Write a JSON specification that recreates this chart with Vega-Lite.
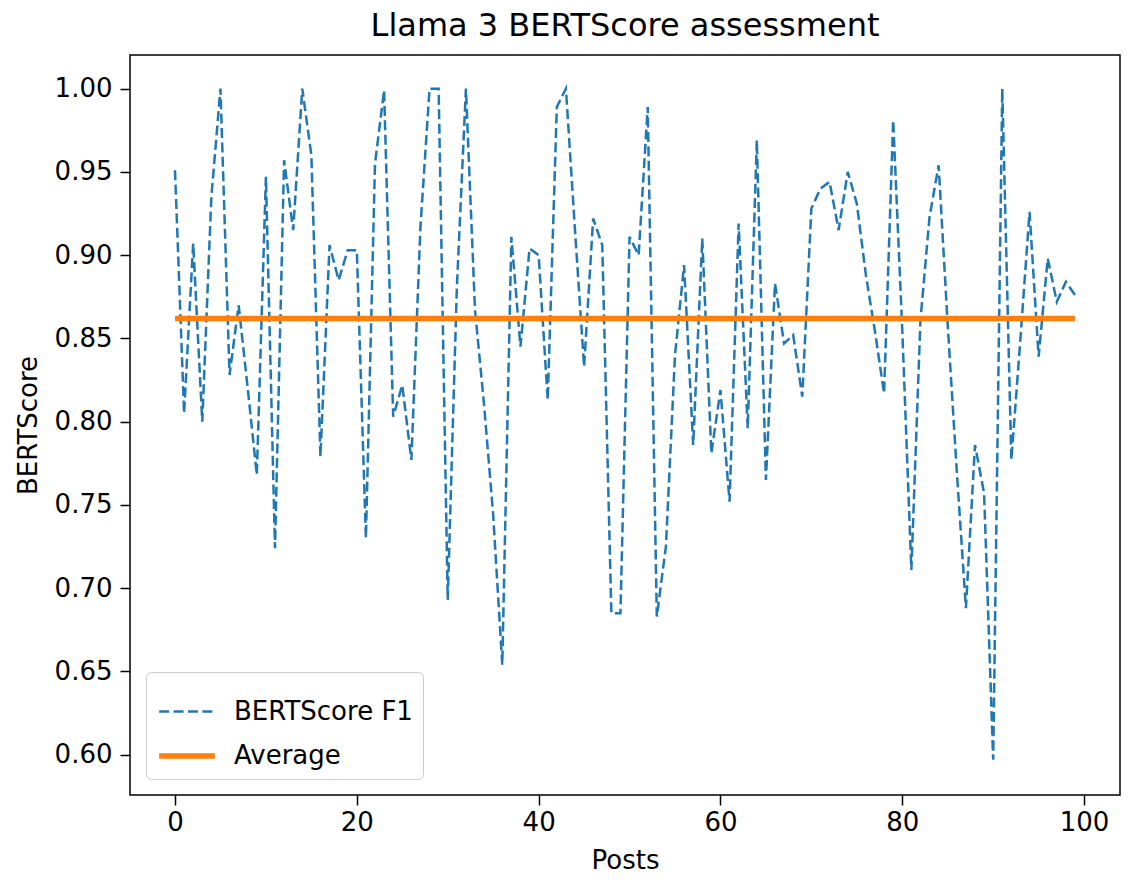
{
  "$schema": "https://vega.github.io/schema/vega-lite/v6.json",
  "width": 990,
  "height": 740,
  "autosize": {"type": "none"},
  "padding": {"left": 130, "top": 55, "right": 9, "bottom": 89},
  "background": "white",
  "title": {"text": "Llama 3 BERTScore assessment", "fontSize": 32, "font": "DejaVu Sans", "fontWeight": "normal", "color": "black", "offset": 12, "anchor": "middle"},
  "config": {
    "font": "DejaVu Sans",
    "view": {"stroke": "black", "strokeWidth": 1.5},
    "axis": {"domain": false, "grid": false, "ticks": true, "tickColor": "black", "tickWidth": 1.5, "tickSize": 10, "labelColor": "black", "labelFontSize": 26, "labelFont": "DejaVu Sans", "titleFont": "DejaVu Sans", "titleFontSize": 26, "titleFontWeight": "normal", "titleColor": "black"},
    "legend": {"orient": "bottom-left", "offset": 16, "padding": 10, "fillColor": "white", "strokeColor": "#cccccc", "cornerRadius": 5, "labelFontSize": 26, "labelFont": "DejaVu Sans", "labelColor": "black", "labelLimit": 0, "symbolType": "stroke", "symbolSize": 3100, "labelOffset": 16, "rowPadding": 0}
  },
  "datasets": {
    "scores": [
      {"post": 0, "score": 0.951, "series": "BERTScore F1"},
      {"post": 1, "score": 0.805, "series": "BERTScore F1"},
      {"post": 2, "score": 0.907, "series": "BERTScore F1"},
      {"post": 3, "score": 0.800, "series": "BERTScore F1"},
      {"post": 4, "score": 0.935, "series": "BERTScore F1"},
      {"post": 5, "score": 1.000, "series": "BERTScore F1"},
      {"post": 6, "score": 0.828, "series": "BERTScore F1"},
      {"post": 7, "score": 0.870, "series": "BERTScore F1"},
      {"post": 8, "score": 0.820, "series": "BERTScore F1"},
      {"post": 9, "score": 0.768, "series": "BERTScore F1"},
      {"post": 10, "score": 0.947, "series": "BERTScore F1"},
      {"post": 11, "score": 0.724, "series": "BERTScore F1"},
      {"post": 12, "score": 0.957, "series": "BERTScore F1"},
      {"post": 13, "score": 0.915, "series": "BERTScore F1"},
      {"post": 14, "score": 1.000, "series": "BERTScore F1"},
      {"post": 15, "score": 0.960, "series": "BERTScore F1"},
      {"post": 16, "score": 0.779, "series": "BERTScore F1"},
      {"post": 17, "score": 0.906, "series": "BERTScore F1"},
      {"post": 18, "score": 0.885, "series": "BERTScore F1"},
      {"post": 19, "score": 0.903, "series": "BERTScore F1"},
      {"post": 20, "score": 0.903, "series": "BERTScore F1"},
      {"post": 21, "score": 0.730, "series": "BERTScore F1"},
      {"post": 22, "score": 0.955, "series": "BERTScore F1"},
      {"post": 23, "score": 0.999, "series": "BERTScore F1"},
      {"post": 24, "score": 0.803, "series": "BERTScore F1"},
      {"post": 25, "score": 0.822, "series": "BERTScore F1"},
      {"post": 26, "score": 0.777, "series": "BERTScore F1"},
      {"post": 27, "score": 0.917, "series": "BERTScore F1"},
      {"post": 28, "score": 1.000, "series": "BERTScore F1"},
      {"post": 29, "score": 1.000, "series": "BERTScore F1"},
      {"post": 30, "score": 0.693, "series": "BERTScore F1"},
      {"post": 31, "score": 0.880, "series": "BERTScore F1"},
      {"post": 32, "score": 1.000, "series": "BERTScore F1"},
      {"post": 33, "score": 0.867, "series": "BERTScore F1"},
      {"post": 34, "score": 0.810, "series": "BERTScore F1"},
      {"post": 35, "score": 0.744, "series": "BERTScore F1"},
      {"post": 36, "score": 0.654, "series": "BERTScore F1"},
      {"post": 37, "score": 0.911, "series": "BERTScore F1"},
      {"post": 38, "score": 0.845, "series": "BERTScore F1"},
      {"post": 39, "score": 0.904, "series": "BERTScore F1"},
      {"post": 40, "score": 0.900, "series": "BERTScore F1"},
      {"post": 41, "score": 0.813, "series": "BERTScore F1"},
      {"post": 42, "score": 0.989, "series": "BERTScore F1"},
      {"post": 43, "score": 1.000, "series": "BERTScore F1"},
      {"post": 44, "score": 0.915, "series": "BERTScore F1"},
      {"post": 45, "score": 0.833, "series": "BERTScore F1"},
      {"post": 46, "score": 0.922, "series": "BERTScore F1"},
      {"post": 47, "score": 0.906, "series": "BERTScore F1"},
      {"post": 48, "score": 0.685, "series": "BERTScore F1"},
      {"post": 49, "score": 0.685, "series": "BERTScore F1"},
      {"post": 50, "score": 0.911, "series": "BERTScore F1"},
      {"post": 51, "score": 0.900, "series": "BERTScore F1"},
      {"post": 52, "score": 0.989, "series": "BERTScore F1"},
      {"post": 53, "score": 0.683, "series": "BERTScore F1"},
      {"post": 54, "score": 0.725, "series": "BERTScore F1"},
      {"post": 55, "score": 0.840, "series": "BERTScore F1"},
      {"post": 56, "score": 0.894, "series": "BERTScore F1"},
      {"post": 57, "score": 0.786, "series": "BERTScore F1"},
      {"post": 58, "score": 0.910, "series": "BERTScore F1"},
      {"post": 59, "score": 0.781, "series": "BERTScore F1"},
      {"post": 60, "score": 0.819, "series": "BERTScore F1"},
      {"post": 61, "score": 0.752, "series": "BERTScore F1"},
      {"post": 62, "score": 0.919, "series": "BERTScore F1"},
      {"post": 63, "score": 0.796, "series": "BERTScore F1"},
      {"post": 64, "score": 0.969, "series": "BERTScore F1"},
      {"post": 65, "score": 0.765, "series": "BERTScore F1"},
      {"post": 66, "score": 0.883, "series": "BERTScore F1"},
      {"post": 67, "score": 0.847, "series": "BERTScore F1"},
      {"post": 68, "score": 0.852, "series": "BERTScore F1"},
      {"post": 69, "score": 0.815, "series": "BERTScore F1"},
      {"post": 70, "score": 0.928, "series": "BERTScore F1"},
      {"post": 71, "score": 0.940, "series": "BERTScore F1"},
      {"post": 72, "score": 0.944, "series": "BERTScore F1"},
      {"post": 73, "score": 0.915, "series": "BERTScore F1"},
      {"post": 74, "score": 0.950, "series": "BERTScore F1"},
      {"post": 75, "score": 0.931, "series": "BERTScore F1"},
      {"post": 76, "score": 0.888, "series": "BERTScore F1"},
      {"post": 77, "score": 0.854, "series": "BERTScore F1"},
      {"post": 78, "score": 0.817, "series": "BERTScore F1"},
      {"post": 79, "score": 0.981, "series": "BERTScore F1"},
      {"post": 80, "score": 0.855, "series": "BERTScore F1"},
      {"post": 81, "score": 0.711, "series": "BERTScore F1"},
      {"post": 82, "score": 0.861, "series": "BERTScore F1"},
      {"post": 83, "score": 0.923, "series": "BERTScore F1"},
      {"post": 84, "score": 0.954, "series": "BERTScore F1"},
      {"post": 85, "score": 0.858, "series": "BERTScore F1"},
      {"post": 86, "score": 0.770, "series": "BERTScore F1"},
      {"post": 87, "score": 0.688, "series": "BERTScore F1"},
      {"post": 88, "score": 0.786, "series": "BERTScore F1"},
      {"post": 89, "score": 0.757, "series": "BERTScore F1"},
      {"post": 90, "score": 0.597, "series": "BERTScore F1"},
      {"post": 91, "score": 1.000, "series": "BERTScore F1"},
      {"post": 92, "score": 0.777, "series": "BERTScore F1"},
      {"post": 93, "score": 0.850, "series": "BERTScore F1"},
      {"post": 94, "score": 0.926, "series": "BERTScore F1"},
      {"post": 95, "score": 0.839, "series": "BERTScore F1"},
      {"post": 96, "score": 0.898, "series": "BERTScore F1"},
      {"post": 97, "score": 0.872, "series": "BERTScore F1"},
      {"post": 98, "score": 0.884, "series": "BERTScore F1"},
      {"post": 99, "score": 0.876, "series": "BERTScore F1"}
    ],
    "avg": [
      {"post": 0, "score": 0.862, "series": "Average"},
      {"post": 99, "score": 0.862, "series": "Average"}
    ]
  },
  "encoding": {
    "x": {"field": "post", "type": "quantitative", "title": "Posts",
      "scale": {"domain": [-4.95, 103.95], "nice": false, "zero": false},
      "axis": {"values": [0, 20, 40, 60, 80, 100], "labelPadding": 4, "titlePadding": 12}},
    "y": {"field": "score", "type": "quantitative", "title": "BERTScore",
      "scale": {"domain": [0.5758, 1.0202], "nice": false, "zero": false},
      "axis": {"values": [0.6, 0.65, 0.7, 0.75, 0.8, 0.85, 0.9, 0.95, 1.0], "format": ".2f", "labelPadding": 8, "titlePadding": 13}},
    "color": {"field": "series", "type": "nominal",
      "scale": {"domain": ["BERTScore F1", "Average"], "range": ["#1f77b4", "#ff7f0e"]},
      "legend": {"title": null}},
    "strokeDash": {"field": "series", "type": "nominal",
      "scale": {"domain": ["BERTScore F1", "Average"], "range": [[10, 4.4], [1, 0]]},
      "legend": {"title": null}},
    "strokeWidth": {"field": "series", "type": "nominal",
      "scale": {"type": "ordinal", "domain": ["BERTScore F1", "Average"], "range": [2.5, 5.5]},
      "legend": {"title": null}}
  },
  "layer": [
    {"data": {"name": "scores"}, "mark": {"type": "line", "clip": true, "strokeCap": "butt"}},
    {"data": {"name": "avg"}, "mark": {"type": "line", "clip": true, "strokeCap": "butt"}}
  ]
}
